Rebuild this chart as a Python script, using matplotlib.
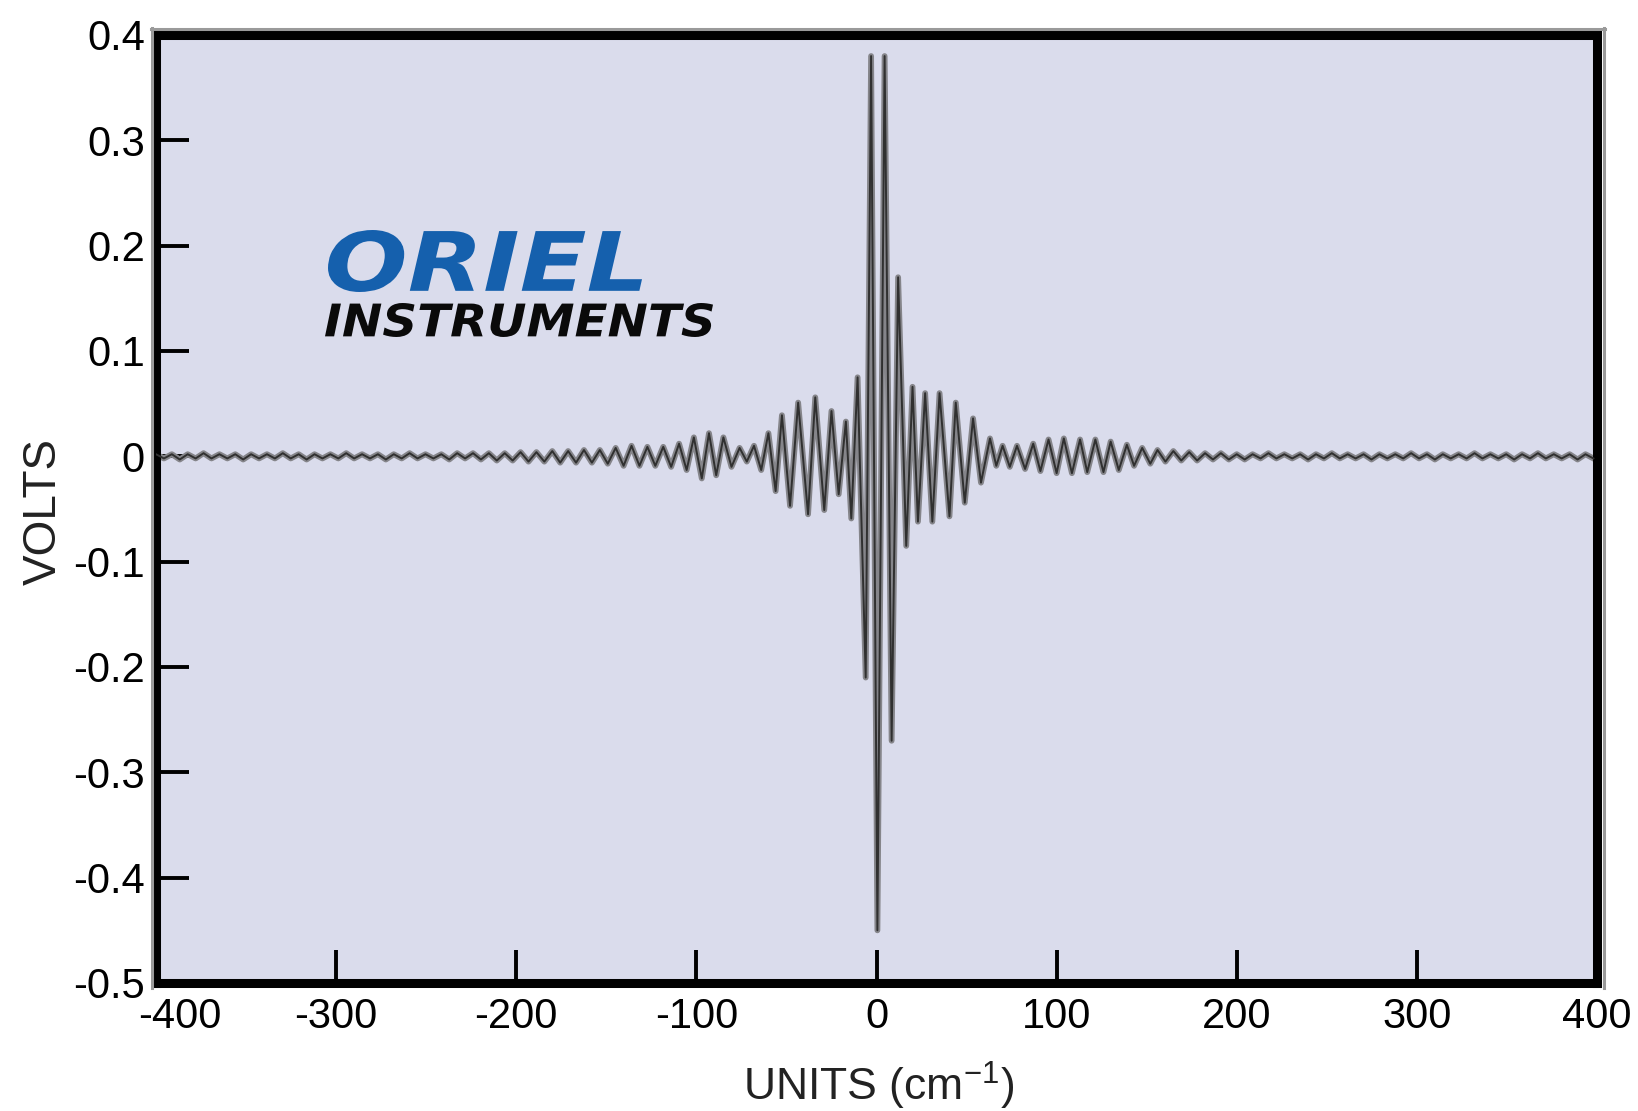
import numpy as np
import matplotlib
matplotlib.use("Agg")
import matplotlib.pyplot as plt
from matplotlib.textpath import TextPath
from matplotlib.font_manager import FontProperties
from matplotlib.patches import PathPatch
from matplotlib.lines import Line2D
from matplotlib.transforms import Affine2D, IdentityTransform, ScaledTranslation

plt.rcParams['font.family'] = ['Liberation Sans', 'DejaVu Sans']
plt.rcParams['mathtext.fontset'] = 'custom'
plt.rcParams['mathtext.rm'] = 'Liberation Sans'
plt.rcParams['mathtext.it'] = 'Liberation Sans:italic'

# ---------------------------
# Interferogram
# ---------------------------
# left tail, one extremum every 4.4 cm-1 starting at -400
tail_left_y = [
    0.002, -0.002, 0.002, -0.003, 0.002, -0.002, 0.003, -0.002, 0.002, -0.002,
    0.002, -0.003, 0.002, -0.002, 0.002, -0.002, 0.003, -0.002, 0.002, -0.003,
    0.002, -0.002, 0.002, -0.002, 0.003, -0.002, 0.002, -0.002, 0.002, -0.003,
    0.002, -0.002, 0.003, -0.002, 0.002, -0.002, 0.002, -0.003, 0.003, -0.002,
    0.003, -0.003, 0.003, -0.004, 0.003, -0.004, 0.004, -0.005, 0.004, -0.005,
    0.005, -0.006, 0.005, -0.006, 0.006, -0.006, 0.006,
]

# centre burst
burst_x = [
    -149.2, -144.8, -140.4, -136.0, -131.6, -127.2, -122.8, -118.4, -114.0, -109.6,
    -105.4, -101.4, -97.0, -93.0, -89.0, -85.0, -80.5, -76.0, -72.0, -68.0,
    -64.0, -60.0, -56.0, -52.5, -48.0, -43.5, -38.0, -34.0, -29.0, -25.0,
    -21.0, -17.0, -14.0, -10.5, -6.0, -3.0, 0.5, 4.5, 8.4, 12.0,
    16.5, 20.0, 23.0, 27.0, 31.0, 35.0, 40.5, 44.0, 49.0, 53.6,
    58.0, 63.0, 66.5, 70.0, 74.0, 78.0, 82.5, 87.0, 91.0, 95.5,
    100.0, 104.0, 108.5, 113.0, 117.0, 121.5, 126.0, 130.0, 134.5, 139.0,
    143.0, 147.5, 152.0,
]
burst_y = [
    -0.007, 0.008, -0.009, 0.010, -0.009, 0.009, -0.009, 0.009, -0.010, 0.012,
    -0.013, 0.018, -0.021, 0.022, -0.018, 0.018, -0.010, 0.008, -0.005, 0.010,
    -0.013, 0.022, -0.033, 0.039, -0.047, 0.051, -0.055, 0.056, -0.051, 0.043,
    -0.036, 0.033, -0.059, 0.075, -0.210, 0.380, -0.450, 0.380, -0.270, 0.170,
    -0.085, 0.066, -0.062, 0.060, -0.062, 0.060, -0.057, 0.051, -0.044, 0.036,
    -0.025, 0.017, -0.009, 0.010, -0.010, 0.010, -0.012, 0.012, -0.014, 0.016,
    -0.016, 0.017, -0.016, 0.016, -0.015, 0.016, -0.015, 0.014, -0.013, 0.011,
    -0.009, 0.008, -0.007,
]

# right tail, one extremum every 4.4 cm-1 starting at 156
tail_right_y = [
    0.006, -0.005, 0.005, -0.004, 0.004, -0.004, 0.003, -0.003, 0.003, -0.003,
    0.002, -0.003, 0.002, -0.002, 0.003, -0.002, 0.002, -0.002, 0.002, -0.003,
    0.002, -0.002, 0.003, -0.002, 0.002, -0.002, 0.002, -0.003, 0.002, -0.002,
    0.002, -0.002, 0.003, -0.002, 0.002, -0.003, 0.002, -0.002, 0.002, -0.002,
    0.003, -0.002, 0.002, -0.002, 0.002, -0.003, 0.002, -0.002, 0.003, -0.002,
    0.002, -0.002, 0.002, -0.003, 0.002, -0.002,
]

x_ticks = [-400, -300, -200, -100, 0, 100, 200, 300, 400]
x_ticklabels = ['-400', '-300', '-200', '-100', '0', '100', '200', '300', '400']
y_ticks = [0.4, 0.3, 0.2, 0.1, 0.0, -0.1, -0.2, -0.3, -0.4, -0.5]
y_ticklabels = ['0.4', '0.3', '0.2', '0.1', '0', '-0.1', '-0.2', '-0.3', '-0.4', '-0.5']

x_left = -400 + 4.4 * np.arange(len(tail_left_y))
x_right = 156 + 4.4 * np.arange(len(tail_right_y))
xs = np.concatenate([x_left, burst_x, x_right])
ys = np.concatenate([tail_left_y, burst_y, tail_right_y])

# ---------------------------
# Plot
# ---------------------------
W, H = 1638, 1111
fig = plt.figure(figsize=(W / 100, H / 100), dpi=100)
ax = fig.add_axes([156 / W, 1 - 983 / H, (1597 - 156) / W, (983 - 35) / H])
ax.set_facecolor('#dadcec')

ax.plot(xs, ys, color='#85858a', lw=4.2, zorder=2)
ax.plot(xs, ys, color='#303030', lw=1.4, zorder=3)

ax.set_xlim(-400, 400)
ax.set_ylim(-0.5, 0.4)
ax.set_xticks(x_ticks)
ax.set_xticklabels(x_ticklabels)
ax.set_yticks(y_ticks)
ax.set_yticklabels(y_ticklabels)
ax.tick_params(direction='in', length=24, width=2.8, labelsize=30,
               colors='black', top=False, right=False)
ax.tick_params(axis='x', pad=10)
ax.tick_params(axis='y', pad=8)

# in the original the "-400" sits a little right of its tick, clear of "-0.5"
first = ax.get_xticklabels()[0]
first.set_transform(first.get_transform()
                    + ScaledTranslation(0.24, 0, fig.dpi_scale_trans))

for s in ax.spines.values():
    s.set_linewidth(6.5)
    s.set_color('black')

# grey shadow along the outer frame (top, left, right)
for xy in [((151, 1605), (H - 29, H - 29)),
           ((152, 152), (H - 28, H - 988)),
           ((1604, 1604), (H - 28, H - 988))]:
    fig.add_artist(Line2D(xy[0], xy[1], color='#9a9a9a', lw=2.2,
                          transform=IdentityTransform(), zorder=0.5))

fig.text(44 / W, 1 - 512 / H, 'VOLTS', rotation=90, ha='center', va='center',
         fontsize=33, color='#222222')
fig.text(879 / W, 1 - 1086 / H, 'UNITS (cm$^{-1}$)', ha='center', va='center',
         fontsize=32, color='#222222')


# logo, fitted into its box (image pixels, origin top-left)
def add_logo(s, box, color):
    fp = FontProperties(family='DejaVu Sans', weight='bold', style='oblique')
    path = TextPath((0, 0), s, size=100, prop=fp)
    ext = path.get_extents()
    x0, y0, x1, y1 = box
    tr = (Affine2D().translate(-ext.x0, -ext.y0)
          .scale((x1 - x0) / ext.width, (y1 - y0) / ext.height)
          .translate(x0, H - y1))
    fig.add_artist(PathPatch(tr.transform_path(path), facecolor=color,
                             edgecolor='none', transform=IdentityTransform(),
                             zorder=5))


add_logo('ORIEL', (328, 230, 642, 292), '#1560ad')
add_logo('INSTRUMENTS', (325, 303, 713, 337), '#0a0a0a')

fig.savefig('out.png', dpi=100, facecolor='white')
